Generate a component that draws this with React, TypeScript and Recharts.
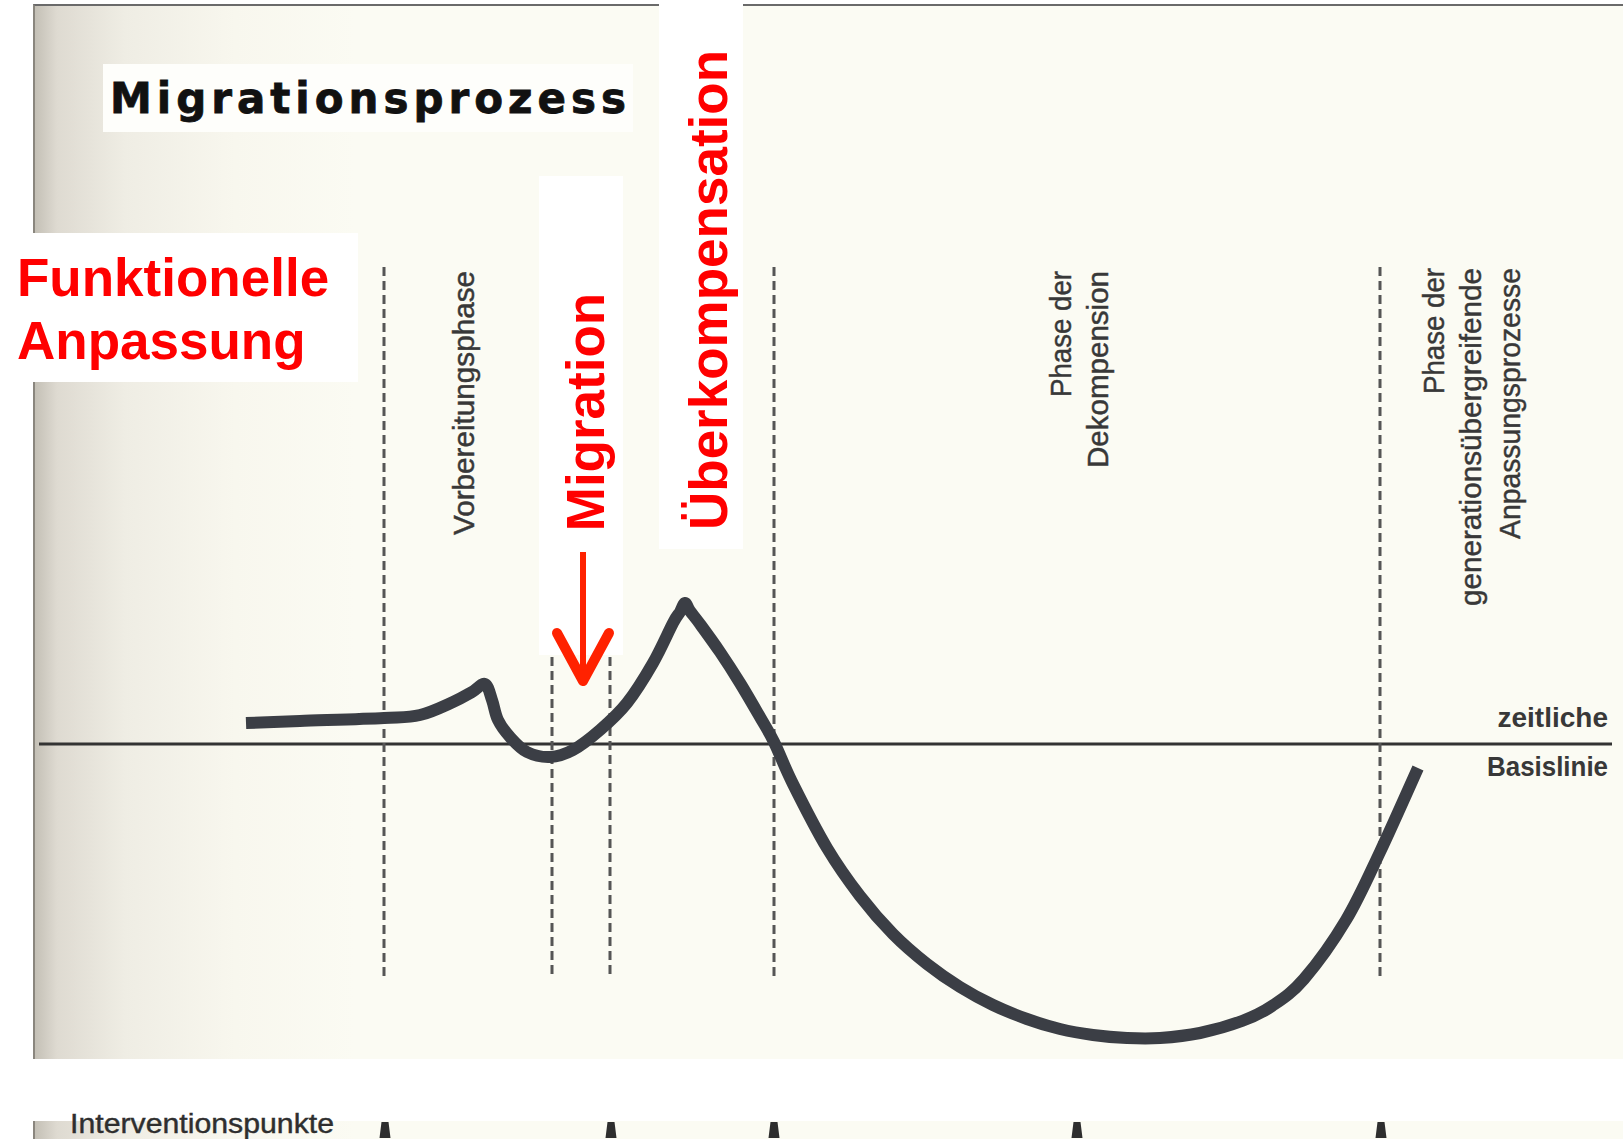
import React from 'react'
import { ComposedChart, Line, Scatter, XAxis, YAxis, ReferenceLine } from 'recharts'

const W = 1623
const H = 1139

// time (page px) and adaptation level (px above the "zeitliche Basislinie")
const curveT = [246, 300, 384, 420, 453, 472, 485, 492, 498, 510, 527, 550, 573, 600, 627, 653, 673, 680, 685, 690, 700, 720, 740, 760, 774, 793, 827, 860, 893, 927, 960, 993, 1027, 1060, 1093, 1127, 1160, 1200, 1242, 1272, 1304, 1346, 1380, 1418]
const curveLevel = [21, 23, 26, 29, 42, 52, 60, 44, 24, 7, -8, -13, -6, 14, 41, 81, 121, 132, 141, 133, 120, 92, 61, 27, 2, -40, -104, -152, -190, -220, -243, -261, -275, -285, -291, -294, -294, -289, -277, -262, -235, -176, -108, -24]

const phaseT = [384, 552, 610, 774, 1380]
const phaseTop = [477, 87, 87, 477, 477]
const phaseBottom = -232

const interventionT = [385, 611, 774, 1077, 1381]

const curve = curveT.map((t, i) => ({ t, level: curveLevel[i] }))
const interventions = interventionT.map((t) => ({ t, level: -386 }))

const SANS = '"Liberation Sans", Arial, sans-serif'
const GREY = '#383838'
const RED = '#ff0000'

const paper = 'linear-gradient(to right, #c4c0b6 0px, #dedad1 22px, #efede4 90px, #f8f7ee 200px, #fbfbf3 320px)'

// plain Catmull-Rom curve so the hand-drawn line passes through every read point
function catmullRom(context: any) {
  let pts: number[][] = []
  return {
    areaStart() {},
    areaEnd() {},
    lineStart() { pts = [] },
    point(x: number, y: number) { pts.push([+x, +y]) },
    lineEnd() {
      if (!pts.length) return
      context.moveTo(pts[0][0], pts[0][1])
      for (let i = 0; i < pts.length - 1; i++) {
        const p0 = pts[i - 1] || pts[i]
        const p1 = pts[i]
        const p2 = pts[i + 1]
        const p3 = pts[i + 2] || p2
        context.bezierCurveTo(
          p1[0] + (p2[0] - p0[0]) / 6, p1[1] + (p2[1] - p0[1]) / 6,
          p2[0] - (p3[0] - p1[0]) / 6, p2[1] - (p3[1] - p1[1]) / 6,
          p2[0], p2[1],
        )
      }
    },
  }
}

function Marker(props: any) {
  const { cx, cy } = props
  return <path d={`M${cx - 3.5},${cy - 8} L${cx + 3.5},${cy - 8} L${cx + 5.5},${cy + 8} L${cx - 5.5},${cy + 8} Z`} fill="#2e2e2e" />
}

// vertical text reading bottom-to-top
function VText({ x, y, len, children, size = 29, color = GREY, weight = 400, anchor = 'end', thick = 0.45 }: any) {
  return (
    <text
      x={x} y={y}
      transform={`rotate(-90, ${x}, ${y})`}
      textAnchor={anchor}
      fontFamily={SANS}
      fontSize={size}
      fontWeight={weight}
      fill={color}
      stroke={thick ? color : undefined}
      strokeWidth={thick || undefined}
      textLength={len}
      lengthAdjust="spacingAndGlyphs"
    >
      {children}
    </text>
  )
}

export default function App() {
  return (
    <div style={{ position: 'absolute', left: 0, top: 0, width: W, height: H, background: '#fff', overflow: 'hidden' }}>
      {/* scanned page */}
      <div style={{ position: 'absolute', left: 33, top: 4, width: W - 33, height: 1055, background: paper, borderTop: '2px solid #6a6a6a', borderLeft: '2px solid #8a867e', boxSizing: 'border-box' }} />
      <div style={{ position: 'absolute', left: 33, top: 1121, width: W - 33, height: 18, background: paper, borderLeft: '2px solid #8a867e', boxSizing: 'border-box' }} />
      <div style={{ position: 'absolute', left: 103, top: 64, width: 530, height: 68, background: '#fefefb' }} />
      {/* white boxes behind the red notes */}
      <div style={{ position: 'absolute', left: 0, top: 233, width: 358, height: 149, background: '#fff' }} />
      <div style={{ position: 'absolute', left: 539, top: 176, width: 84, height: 479, background: '#fff' }} />
      <div style={{ position: 'absolute', left: 659, top: 0, width: 84, height: 549, background: '#fff' }} />

      <div style={{ position: 'absolute', left: 0, top: 0 }}>
        <ComposedChart width={W} height={H} margin={{ top: 0, right: 0, bottom: 0, left: 0 }}>
          <XAxis dataKey="t" type="number" domain={[0, W]} ticks={[0, W]} allowDataOverflow hide />
          <YAxis type="number" domain={[-395, 744]} ticks={[-395, 744]} allowDataOverflow hide />

          <ReferenceLine segment={[{ x: 39, y: 0 }, { x: 1612, y: 0 }]} stroke="#333" strokeWidth={3} />
          {phaseT.map((t, i) => (
            <ReferenceLine
              key={t}
              segment={[{ x: t, y: phaseTop[i] }, { x: t, y: phaseBottom }]}
              stroke="#555"
              strokeWidth={3}
              strokeDasharray="9 5"
            />
          ))}

          <Line
            data={curve}
            dataKey="level"
            type={catmullRom as any}
            stroke="#3b3e45"
            strokeWidth={12}
            strokeLinecap="butt"
            strokeLinejoin="round"
            dot={false}
            activeDot={false}
            isAnimationActive={false}
          />
          <Scatter data={interventions} dataKey="level" shape={Marker} isAnimationActive={false} />

          <text x={110} y={113} fontFamily='"DejaVu Sans", sans-serif' fontWeight={700} fontSize={42} fill="#111" stroke="#111" strokeWidth={0.8} textLength={516} lengthAdjust="spacing">
            Migrationsprozess
          </text>

          <text x={17} y={296} fontFamily={SANS} fontWeight={700} fontSize={53} fill={RED}>Funktionelle</text>
          <text x={17} y={359} fontFamily={SANS} fontWeight={700} fontSize={53} fill={RED}>Anpassung</text>

          <VText x={604} y={412} size={53} color={RED} weight={700} anchor="middle" thick={0}>Migration</VText>
          <VText x={727} y={290} size={53} color={RED} weight={700} anchor="middle" thick={0}>Überkompensation</VText>
          <line x1={583} y1={552} x2={583} y2={676} stroke="#ff2200" strokeWidth={6} />
          <polyline points="557,633 583,681 609,633" fill="none" stroke="#ff2200" strokeWidth={10} strokeLinecap="round" strokeLinejoin="round" />

          <VText x={474} y={271} len={264}>Vorbereitungsphase</VText>
          <VText x={1071} y={271} len={126}>Phase der</VText>
          <VText x={1108} y={271} len={197}>Dekompension</VText>
          <VText x={1444} y={268} len={126}>Phase der</VText>
          <VText x={1481} y={268} len={338}>generationsübergreifende</VText>
          <VText x={1520} y={268} len={271}>Anpassungsprozesse</VText>

          <text x={1608} y={727} textAnchor="end" fontFamily={SANS} fontWeight={700} fontSize={28} fill={GREY}>zeitliche</text>
          <text x={1608} y={776} textAnchor="end" fontFamily={SANS} fontWeight={700} fontSize={28} fill={GREY} textLength={121} lengthAdjust="spacingAndGlyphs">Basislinie</text>

          <text x={70} y={1133} fontFamily={SANS} fontSize={27} fill="#2e2e2e" stroke="#2e2e2e" strokeWidth={0.4} textLength={264} lengthAdjust="spacingAndGlyphs">Interventionspunkte</text>
        </ComposedChart>
      </div>
    </div>
  )
}
